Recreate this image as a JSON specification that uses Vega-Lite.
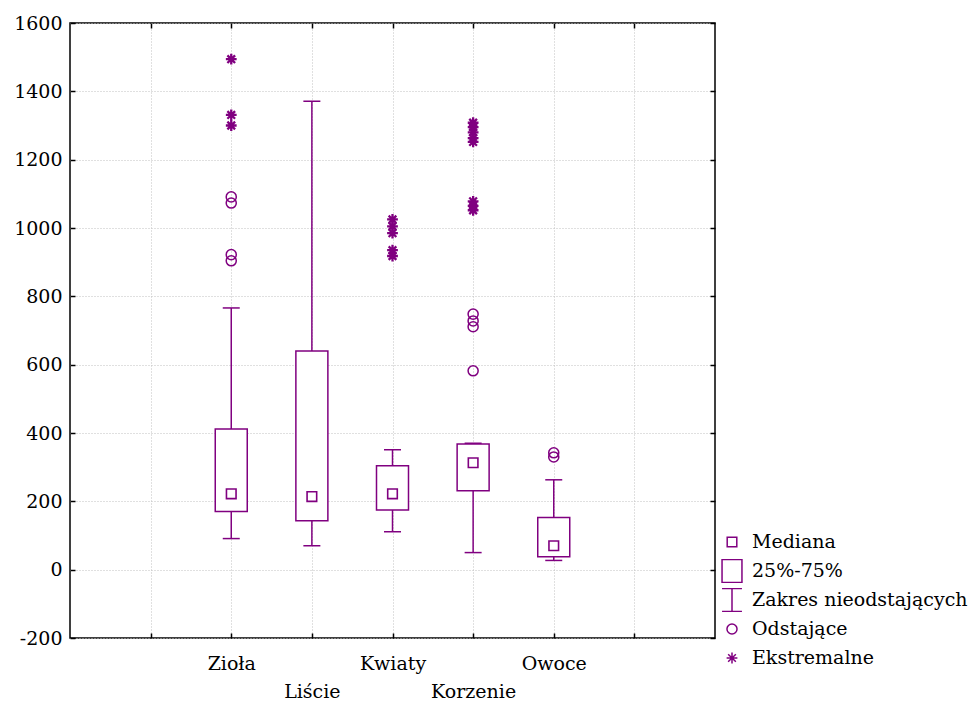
{
  "$schema": "https://vega.github.io/schema/vega-lite/v6.json",
  "width": 645,
  "height": 615,
  "autosize": {"type": "none"},
  "padding": {"left": 70, "top": 23, "right": 260, "bottom": 64},
  "background": "white",
  "config": {
    "view": {"stroke": "#000", "strokeWidth": 1.5},
    "font": "DejaVu Serif",
    "axis": {
      "domain": false,
      "labelFont": "DejaVu Serif",
      "labelFontSize": 19,
      "labelColor": "#000",
      "tickColor": "#000",
      "tickWidth": 1.5,
      "tickSize": -5,
      "gridColor": "#c0c0c0",
      "gridDash": [1, 2],
      "gridWidth": 1,
      "title": null
    },
    "legend": {
      "labelFont": "DejaVu Serif",
      "labelFontSize": 19,
      "labelColor": "#000"
    }
  },
  "datasets": {
    "boxes": [
      {"cat": "Zioła", "pos": 2, "lower": 91, "q1": 170, "median": 222, "q3": 412, "upper": 766},
      {"cat": "Liście", "pos": 3, "lower": 70, "q1": 143, "median": 214, "q3": 640, "upper": 1371},
      {"cat": "Kwiaty", "pos": 4, "lower": 111, "q1": 175, "median": 222, "q3": 304, "upper": 351},
      {"cat": "Korzenie", "pos": 5, "lower": 50, "q1": 231, "median": 313, "q3": 368, "upper": 370},
      {"cat": "Owoce", "pos": 6, "lower": 27, "q1": 38, "median": 70, "q3": 153, "upper": 263}
    ],
    "points": [
      {"cat": "Zioła", "pos": 2, "value": 1494, "kind": "Ekstremalne"},
      {"cat": "Zioła", "pos": 2, "value": 1331, "kind": "Ekstremalne"},
      {"cat": "Zioła", "pos": 2, "value": 1300, "kind": "Ekstremalne"},
      {"cat": "Zioła", "pos": 2, "value": 1091, "kind": "Odstające"},
      {"cat": "Zioła", "pos": 2, "value": 1073, "kind": "Odstające"},
      {"cat": "Zioła", "pos": 2, "value": 922, "kind": "Odstające"},
      {"cat": "Zioła", "pos": 2, "value": 904, "kind": "Odstające"},
      {"cat": "Kwiaty", "pos": 4, "value": 1025, "kind": "Ekstremalne"},
      {"cat": "Kwiaty", "pos": 4, "value": 1005, "kind": "Ekstremalne"},
      {"cat": "Kwiaty", "pos": 4, "value": 985, "kind": "Ekstremalne"},
      {"cat": "Kwiaty", "pos": 4, "value": 935, "kind": "Ekstremalne"},
      {"cat": "Kwiaty", "pos": 4, "value": 918, "kind": "Ekstremalne"},
      {"cat": "Korzenie", "pos": 5, "value": 1308, "kind": "Ekstremalne"},
      {"cat": "Korzenie", "pos": 5, "value": 1295, "kind": "Ekstremalne"},
      {"cat": "Korzenie", "pos": 5, "value": 1280, "kind": "Ekstremalne"},
      {"cat": "Korzenie", "pos": 5, "value": 1263, "kind": "Ekstremalne"},
      {"cat": "Korzenie", "pos": 5, "value": 1252, "kind": "Ekstremalne"},
      {"cat": "Korzenie", "pos": 5, "value": 1078, "kind": "Ekstremalne"},
      {"cat": "Korzenie", "pos": 5, "value": 1065, "kind": "Ekstremalne"},
      {"cat": "Korzenie", "pos": 5, "value": 1052, "kind": "Ekstremalne"},
      {"cat": "Korzenie", "pos": 5, "value": 748, "kind": "Odstające"},
      {"cat": "Korzenie", "pos": 5, "value": 728, "kind": "Odstające"},
      {"cat": "Korzenie", "pos": 5, "value": 711, "kind": "Odstające"},
      {"cat": "Korzenie", "pos": 5, "value": 582, "kind": "Odstające"},
      {"cat": "Owoce", "pos": 6, "value": 342, "kind": "Odstające"},
      {"cat": "Owoce", "pos": 6, "value": 330, "kind": "Odstające"}
    ]
  },
  "layer": [
    {
      "data": {"name": "boxes"},
      "mark": {"type": "rule", "color": "#800080", "strokeWidth": 1.5},
      "encoding": {
        "x": {
          "field": "pos", "type": "quantitative",
          "scale": {"domain": [0, 8], "nice": false, "zero": false, "padding": 0},
          "axis": {
            "orient": "bottom", "values": [1, 2, 3, 4, 5, 6, 7], "grid": true,
            "labelExpr": "datum.value==2?'Zioła':datum.value==3?['','Liście']:datum.value==4?'Kwiaty':datum.value==5?['','Korzenie']:datum.value==6?'Owoce':''",
            "labelPadding": 21, "labelBaseline": "top", "labelLineHeight": 28,
            "labelFlush": false, "labelOverlap": false
          }
        },
        "y": {
          "field": "lower", "type": "quantitative",
          "scale": {"domain": [-200, 1600], "nice": false, "zero": false, "padding": 0},
          "axis": {"orient": "left", "values": [-200, 0, 200, 400, 600, 800, 1000, 1200, 1400, 1600], "grid": true, "labelPadding": 13, "labelOverlap": false, "labelFlush": false, "labelExpr": "'' + datum.value"}
        },
        "y2": {"field": "upper"}
      }
    },
    {
      "data": {"name": "boxes"},
      "mark": {"type": "tick", "orient": "horizontal", "size": 17, "thickness": 1.5, "color": "#800080", "opacity": 1},
      "encoding": {
        "x": {"field": "pos", "type": "quantitative", "axis": {"orient": "top", "values": [1, 2, 3, 4, 5, 6, 7], "labels": false, "grid": false}},
        "y": {"field": "lower", "type": "quantitative", "axis": {"orient": "right", "values": [-200, 0, 200, 400, 600, 800, 1000, 1200, 1400, 1600], "labels": false, "grid": false}}
      }
    },
    {
      "data": {"name": "boxes"},
      "mark": {"type": "tick", "orient": "horizontal", "size": 17, "thickness": 1.5, "color": "#800080", "opacity": 1},
      "encoding": {
        "x": {"field": "pos", "type": "quantitative", "axis": null},
        "y": {"field": "upper", "type": "quantitative", "axis": null}
      }
    },
    {
      "data": {"name": "boxes"},
      "mark": {"type": "bar", "size": 32, "fill": "white", "stroke": "#800080", "strokeWidth": 1.5, "opacity": 1},
      "encoding": {
        "x": {"field": "pos", "type": "quantitative", "axis": null},
        "y": {"field": "q1", "type": "quantitative", "axis": null},
        "y2": {"field": "q3"}
      }
    },
    {
      "data": {"name": "boxes"},
      "mark": {"type": "point", "filled": false, "size": 576, "strokeWidth": 1.6, "color": "#800080", "opacity": 1},
      "encoding": {
        "x": {"field": "pos", "type": "quantitative", "axis": null},
        "y": {"field": "median", "type": "quantitative", "axis": null},
        "shape": {
          "datum": "Mediana", "type": "nominal", "title": null,
          "scale": {
            "domain": ["Mediana", "25%-75%", "Zakres nieodstających", "Odstające", "Ekstremalne"],
            "range": [
              "M-0.4,-0.4L0.4,-0.4L0.4,0.4L-0.4,0.4Z",
              "M-0.83,-0.95L0.83,-0.95L0.83,0.95L-0.83,0.95Z",
              "M-0.83,-0.95L0.83,-0.95M0,-0.95L0,0.95M-0.83,0.95L0.83,0.95",
              "M-0.42,0A0.42,0.42,0,1,1,0.42,0A0.42,0.42,0,1,1,-0.42,0Z",
              "M-0.45,0L0.45,0M0,-0.45L0,0.45M-0.32,-0.32L0.32,0.32M-0.32,0.32L0.32,-0.32"
            ]
          },
          "legend": {
            "orient": "none", "legendX": 649, "legendY": 507, "title": null,
            "padding": 0, "rowPadding": 5, "clipHeight": 24, "labelOffset": 7, "symbolSize": 576,
            "symbolStrokeColor": "#800080", "symbolFillColor": "transparent", "symbolStrokeWidth": 1.5,
            "labelLimit": 400
          }
        }
      }
    },
    {
      "data": {"name": "points"},
      "transform": [{"filter": "datum.kind == 'Odstające'"}],
      "mark": {"type": "point", "filled": false, "size": 576, "strokeWidth": 1.5, "color": "#800080", "opacity": 1},
      "encoding": {
        "x": {"field": "pos", "type": "quantitative", "axis": null},
        "y": {"field": "value", "type": "quantitative", "axis": null},
        "shape": {"field": "kind", "type": "nominal", "title": null}
      }
    },
    {
      "data": {"name": "points"},
      "transform": [{"filter": "datum.kind == 'Ekstremalne'"}],
      "mark": {"type": "point", "filled": false, "size": 576, "strokeWidth": 2.3, "color": "#800080", "opacity": 1},
      "encoding": {
        "x": {"field": "pos", "type": "quantitative", "axis": null},
        "y": {"field": "value", "type": "quantitative", "axis": null},
        "shape": {"field": "kind", "type": "nominal", "title": null}
      }
    }
  ],
  "resolve": {"axis": {"x": "independent", "y": "independent"}}
}
